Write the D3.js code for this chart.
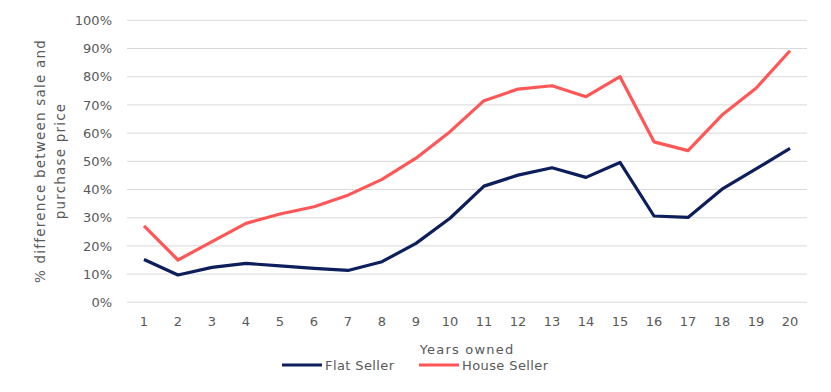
<!DOCTYPE html>
<html><head><meta charset="utf-8">
<script src="https://cdn.jsdelivr.net/npm/d3@7"></script>
<style>body{margin:0;background:#fff}text{font-family:"DejaVu Sans",sans-serif;fill:#595959}</style>
</head><body><svg id="c" width="831" height="392"></svg>
<script>
const years = d3.range(1,21).map(String);
const flatSeller = [15.2,9.7,12.4,13.8,12.9,12.0,11.3,14.4,20.9,29.8,41.2,45.1,47.7,44.3,49.6,30.6,30.1,40.1,47.3,54.6];
const houseSeller = [27.1,15.0,21.5,28.0,31.3,33.9,38.0,43.6,51.1,60.5,71.5,75.6,76.8,72.9,80.0,56.9,53.8,66.4,75.9,89.2];
const yTicks = [0,10,20,30,40,50,60,70,80,90,100];
const seriesNames = ["Flat Seller","House Seller"];
const colors = ["#0c1e5b","#ff5757"];

const svg = d3.select("#c");
const x = d3.scaleBand().domain(years).range([127,807]);
const y = d3.scaleLinear().domain([0,100]).range([302.3,20.3]);

const grid = svg.append("g");
grid.selectAll("line").data(yTicks).join("line")
  .attr("x1",127).attr("x2",807).attr("y1",d=>y(d)).attr("y2",d=>y(d))
  .attr("stroke","#d9d9d9").attr("stroke-width",1);

const ya = svg.append("g").attr("transform","translate(127,0)")
  .call(d3.axisLeft(y).tickValues(yTicks).tickFormat(d=>d+"%").tickSize(0).tickPadding(15));
ya.select(".domain").remove();
ya.selectAll("text").style("font-size","13px").style("fill","#595959").style("font-family","DejaVu Sans");

const xa = svg.append("g").attr("transform","translate(0,302.3)")
  .call(d3.axisBottom(x).tickSize(0).tickPadding(14));
xa.select(".domain").remove();
xa.selectAll("text").style("font-size","13px").style("fill","#595959").style("font-family","DejaVu Sans");

const line = d3.line().x((d,i)=>x(years[i])+x.bandwidth()/2).y(d=>y(d));
[flatSeller,houseSeller].forEach((s,i)=>{
  svg.append("path").attr("d",line(s)).attr("fill","none")
    .attr("stroke",colors[i]).attr("stroke-width",3.2).attr("stroke-linejoin","round");
});

svg.append("text").attr("transform","translate(45,161) rotate(-90)")
  .attr("text-anchor","middle").style("font-size","13.5px").style("letter-spacing","1.2px")
  .text("% difference between sale and");
svg.append("text").attr("transform","translate(65,161) rotate(-90)")
  .attr("text-anchor","middle").style("font-size","13.5px").style("letter-spacing","1.2px")
  .text("purchase price");

svg.append("text").attr("x",467).attr("y",354).attr("text-anchor","middle")
  .style("font-size","13px").style("letter-spacing","1.2px").text("Years owned");

const legX = [282,419];
seriesNames.forEach((n,i)=>{
  const g = svg.append("g").attr("transform",`translate(${legX[i]},365)`);
  g.append("line").attr("x1",0).attr("x2",40).attr("y1",0).attr("y2",0)
    .attr("stroke",colors[i]).attr("stroke-width",3.2);
  g.append("text").attr("x",43).attr("y",5).style("font-size","13px").style("letter-spacing","0.4px").text(n);
});
</script></body></html>
